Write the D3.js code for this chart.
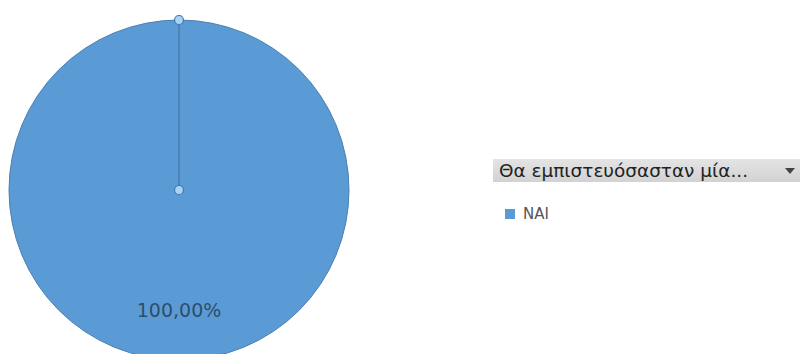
<!DOCTYPE html>
<html>
<head>
<meta charset="utf-8">
<script src="https://cdn.jsdelivr.net/npm/d3@7"></script>
<style>
  html, body { margin: 0; padding: 0; background: #fff; }
  svg { display: block; }
</style>
</head>
<body>
<svg id="chart" width="800" height="354"></svg>
<script>
// Answer categories and their shares
const categories = ["NAI"];
const values = [100];
const legendTitle = "Θα εμπιστευόσασταν μία...";
const percentLabels = ["100,00%"];

const svg = d3.select("#chart");
const cx = 179, cy = 190, radius = 170;

const color = d3.scaleOrdinal().domain(categories).range(["#5b9bd5"]);

const pie = d3.pie().sort(null).value(d => d.value);
const arcs = pie(categories.map((c, i) => ({ name: c, value: values[i], label: percentLabels[i] })));
const arc = d3.arc().innerRadius(0).outerRadius(radius);

const defs = svg.append("defs");
const hdrGrad = defs.append("linearGradient")
  .attr("id", "hdrGrad").attr("x1", 0).attr("y1", 0).attr("x2", 0).attr("y2", 1);
hdrGrad.append("stop").attr("offset", "0%").attr("stop-color", "#e4e4e4");
hdrGrad.append("stop").attr("offset", "100%").attr("stop-color", "#d2d2d2");

const g = svg.append("g").attr("transform", `translate(${cx},${cy})`);

g.selectAll("path.slice")
  .data(arcs)
  .join("path")
  .attr("class", "slice")
  .attr("d", arc)
  .attr("fill", d => color(d.data.name))
  .attr("stroke", "#4a7eb0")
  .attr("stroke-width", 1);

// Selected-slice handle: radius line from the centre to the top edge
const startPt = d3.pointRadial(arcs[0].startAngle, radius);
g.append("line")
  .attr("x1", 0).attr("y1", 0)
  .attr("x2", startPt[0]).attr("y2", startPt[1])
  .attr("stroke", "#3f6f9f")
  .attr("stroke-width", 1);

[[0, 0], startPt].forEach(p => {
  g.append("circle")
    .attr("cx", p[0]).attr("cy", p[1])
    .attr("r", 4.5)
    .attr("fill", "#a9d3f5")
    .attr("stroke", "#3f78b0")
    .attr("stroke-width", 1.2);
});

// Percentage label inside the slice
g.selectAll("text.pct")
  .data(arcs)
  .join("text")
  .attr("class", "pct")
  .attr("x", 0)
  .attr("y", 127)
  .attr("text-anchor", "middle")
  .attr("font-family", "'DejaVu Sans', sans-serif")
  .attr("font-size", 19)
  .attr("fill", "#2f4d6c")
  .text(d => d.data.label);

// Legend with filter-style header
const lg = svg.append("g").attr("transform", "translate(493,159)");
lg.append("rect")
  .attr("x", 0).attr("y", 0)
  .attr("width", 307).attr("height", 23)
  .attr("fill", "url(#hdrGrad)");
lg.append("text")
  .attr("x", 6).attr("y", 18)
  .attr("font-family", "'DejaVu Sans', sans-serif")
  .attr("font-size", 18)
  .attr("textLength", 249)
  .attr("lengthAdjust", "spacingAndGlyphs")
  .attr("fill", "#222")
  .text(legendTitle);
lg.append("path")
  .attr("d", "M292,9 L302,9 L297,15 Z")
  .attr("fill", "#444");

const items = lg.selectAll("g.item")
  .data(categories)
  .join("g")
  .attr("class", "item")
  .attr("transform", (d, i) => `translate(12,${50 + i * 22})`);
items.append("rect")
  .attr("x", 0).attr("y", 0)
  .attr("width", 10).attr("height", 10)
  .attr("fill", d => color(d));
items.append("text")
  .attr("x", 18).attr("y", 10)
  .attr("font-family", "'DejaVu Sans', sans-serif")
  .attr("font-size", 15)
  .attr("fill", "#555")
  .text(d => d);
</script>
</body>
</html>
